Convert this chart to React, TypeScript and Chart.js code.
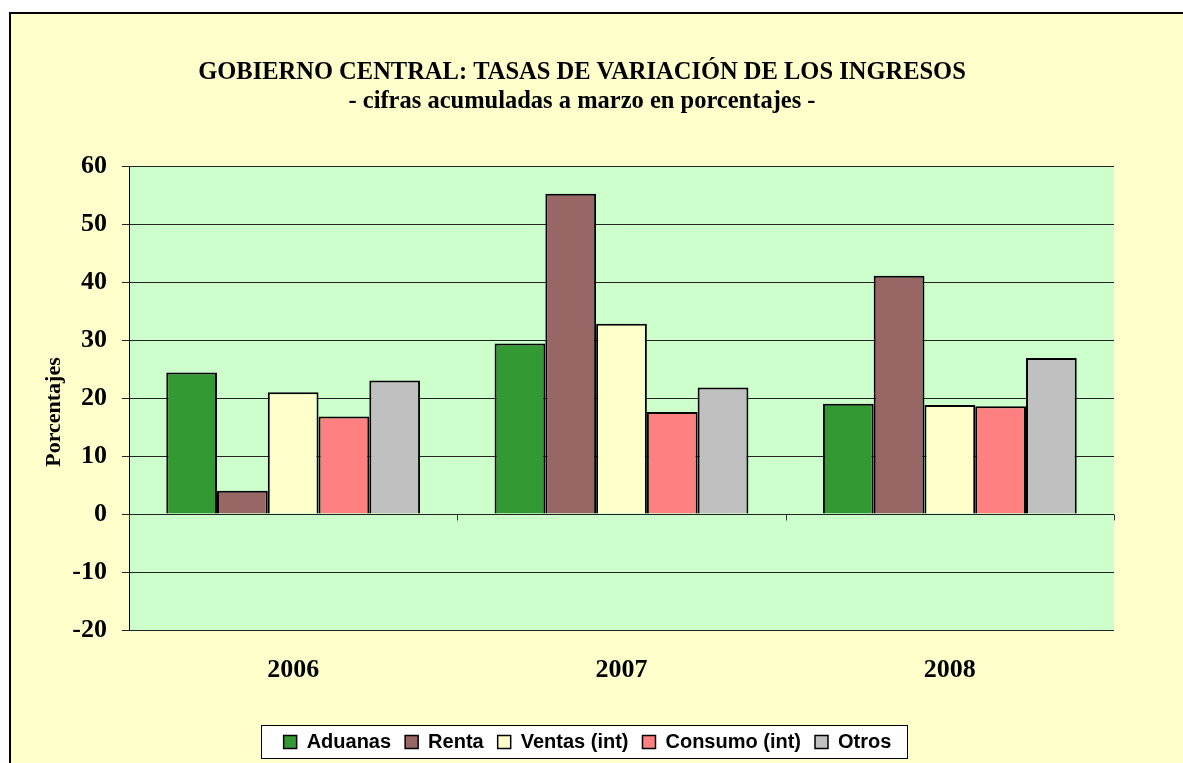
import React, { useEffect, useRef } from "react";
import { Chart, registerables } from "chart.js";

Chart.register(...registerables);

const categories = ["2006", "2007", "2008"];
const seriesNames = ["Aduanas", "Renta", "Ventas (int)", "Consumo (int)", "Otros"];
const aduanas = [24.4, 29.4, 19.0];
const renta = [4.0, 55.2, 41.1];
const ventas = [21.0, 32.8, 18.8];
const consumo = [16.8, 17.6, 18.6];
const otros = [23.0, 21.8, 26.9];
const seriesColors = ["#339933", "#996666", "#FFFFCC", "#FF8080", "#C0C0C0"];
const yMin = -20;
const yMax = 60;
const yStep = 10;
const titleLines = [
  "GOBIERNO CENTRAL: TASAS DE VARIACIÓN DE LOS INGRESOS",
  "- cifras acumuladas a marzo en porcentajes -",
];
const yTitle = "Porcentajes";

const SERIF = '"Liberation Serif", "Times New Roman", serif';
const SANS = '"Liberation Sans", Arial, sans-serif';

const decorPlugin = {
  id: "decor",
  afterLayout(chart: any) {
    if (chart.titleBlock) {
      chart.titleBlock.left = 9;
      chart.titleBlock.right = 1155;
    }
    if (chart.legend) {
      chart.legend.left = 9;
      chart.legend.right = 1166;
    }
  },
  beforeDraw(chart: any) {
    const ctx = chart.ctx;
    const a = chart.chartArea;
    ctx.save();
    ctx.fillStyle = "#CCFFCC";
    ctx.fillRect(a.left, a.top, a.right - a.left, a.bottom - a.top);
    const hb = chart.legend && chart.legend.legendHitBoxes;
    if (hb && hb.length) {
      let minX = Infinity, maxX = -Infinity, minY = Infinity, maxY = -Infinity;
      hb.forEach((h: any) => {
        minX = Math.min(minX, h.left);
        maxX = Math.max(maxX, h.left + h.width);
        minY = Math.min(minY, h.top);
        maxY = Math.max(maxY, h.top + h.height);
      });
      const x0 = Math.round(minX - 23) + 0.5;
      const x1 = Math.round(maxX + 16) + 0.5;
      const y0 = Math.round(minY - 7) + 0.5;
      const y1 = Math.round(maxY + 6) + 0.5;
      ctx.fillStyle = "#FFFFFF";
      ctx.fillRect(x0, y0, x1 - x0, y1 - y0);
      ctx.strokeStyle = "#000000";
      ctx.lineWidth = 1;
      ctx.strokeRect(x0, y0, x1 - x0, y1 - y0);
    }
    ctx.restore();
  },
  afterDatasetsDraw(chart: any) {
    const ctx = chart.ctx;
    const xs = chart.scales.x;
    const ys = chart.scales.y;
    const y0 = Math.round(ys.getPixelForValue(0)) + 0.5;
    const marks: number[] = [xs.left, xs.right];
    for (let i = 1; i < categories.length; i++) {
      marks.push((xs.getPixelForValue(i - 1) + xs.getPixelForValue(i)) / 2);
    }
    ctx.save();
    ctx.strokeStyle = "#333333";
    ctx.lineWidth = 1;
    marks.forEach((m) => {
      const x = Math.round(m) + 0.5;
      ctx.beginPath();
      ctx.moveTo(x, y0);
      ctx.lineTo(x, y0 + 6);
      ctx.stroke();
    });
    ctx.restore();
  },
  afterDraw(chart: any) {
    const ctx = chart.ctx;
    const a = chart.chartArea;
    ctx.save();
    ctx.translate(54, (a.top + a.bottom) / 2 + 14);
    ctx.rotate(-Math.PI / 2);
    ctx.fillStyle = "#000000";
    ctx.font = `bold 22px ${SERIF}`;
    ctx.textAlign = "center";
    ctx.textBaseline = "middle";
    ctx.fillText(yTitle, 0, 0);
    ctx.restore();
  },
};

export default function App() {
  const ref = useRef<HTMLCanvasElement | null>(null);

  useEffect(() => {
    if (!ref.current) return;
    const values = [aduanas, renta, ventas, consumo, otros];
    const chart = new Chart(ref.current, {
      type: "bar",
      data: {
        labels: categories,
        datasets: seriesNames.map((name, i) => ({
          label: name,
          data: values[i],
          backgroundColor: seriesColors[i],
          borderColor: "#000000",
          borderWidth: 2,
          categoryPercentage: 0.773,
          barPercentage: 1.0,
        })),
      },
      options: {
        responsive: false,
        animation: false,
        layout: { padding: { top: 0, left: 0, right: 69, bottom: 1 } },
        plugins: {
          title: {
            display: true,
            text: titleLines,
            color: "#000000",
            font: { family: SERIF, size: 24.5, weight: "bold", lineHeight: 1.18 },
            padding: { top: 58.5, bottom: 49.7 },
          },
          legend: {
            display: true,
            position: "bottom",
            labels: {
              color: "#000000",
              font: { family: SANS, size: 20, weight: "bold" },
              boxWidth: 13,
              boxHeight: 13,
              padding: 14,
              generateLabels: (c: any) =>
                Chart.defaults.plugins.legend.labels
                  .generateLabels(c)
                  .map((l: any) => ({ ...l, lineWidth: 1.5 })),
            },
          },
          tooltip: { enabled: false },
        },
        scales: {
          x: {
            grid: { display: false, drawTicks: false },
            border: { display: false },
            ticks: {
              color: "#000000",
              font: { family: SERIF, size: 26, weight: "bold" },
              padding: 25,
            },
            afterFit: (s: any) => {
              s.height = 88;
            },
          },
          y: {
            min: yMin,
            max: yMax,
            ticks: {
              stepSize: yStep,
              color: "#000000",
              font: { family: SERIF, size: 26, weight: "bold" },
              padding: 15,
            },
            grid: {
              color: "#222222",
              lineWidth: 1,
              tickLength: 7,
            },
            border: { display: true, color: "#000000", width: 1 },
            afterFit: (s: any) => {
              s.width = 129;
            },
          },
        },
      },
      plugins: [decorPlugin],
    } as any);
    return () => chart.destroy();
  }, []);

  return (
    <div
      style={{
        position: "absolute",
        left: 0,
        top: 0,
        width: 1183,
        height: 763,
        overflow: "hidden",
        background: "#FFFFFF",
      }}
    >
      <div
        style={{
          position: "absolute",
          left: 9,
          top: 12,
          width: 1250,
          height: 800,
          background: "#FFFFCC",
          borderLeft: "2px solid #000000",
          borderTop: "2px solid #000000",
        }}
      />
      <canvas
        ref={ref}
        width={1183}
        height={763}
        style={{ position: "absolute", left: 0, top: 0, width: 1183, height: 763, display: "block" }}
      />
    </div>
  );
}
